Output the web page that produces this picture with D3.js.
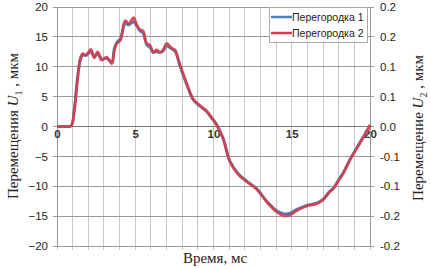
<!DOCTYPE html>
<html><head><meta charset="utf-8">
<script src="https://cdn.jsdelivr.net/npm/d3@7"></script>
<style>body{margin:0;background:#fff}svg{display:block}</style>
</head><body>
<script>
const timeMs = [0,0.5,0.9,1.1,1.3,1.5,1.65,1.85,2.0,2.17,2.38,2.6,2.85,3.17,3.5,3.65,3.8,4.06,4.35,4.6,4.88,5.1,5.3,5.5,5.73,5.94,6.15,6.37,6.6,6.8,7.0,7.33,7.54,7.86,8.29,8.7,9.14,9.56,9.88,10.2,10.6,11.05,11.58,12.1,12.76,13.4,14.04,14.46,14.9,15.3,15.96,16.6,17.0,17.4,17.66,18.0,18.3,18.7,19.35,19.9,20];
const wall1 = [0,0,0.1,2.8,8,11.2,11.9,11.9,12.2,12.5,11.7,12.2,11.3,11.4,10.8,12.9,14.0,14.8,17.2,17.0,17.5,16.8,16.0,15.6,13.7,13.2,12.4,12.5,12.4,12.7,13.5,13.0,12.6,10.1,7.0,4.5,3.4,2.5,1.4,0.3,-1.9,-5.8,-7.9,-9.1,-10.4,-12.5,-14.1,-14.6,-14.5,-13.9,-13.2,-12.8,-12.2,-10.9,-10.3,-8.9,-7.7,-5.6,-2.7,-0.3,0.2];
const wall2 = [0,0,0.1,2.5,7.5,11.5,12.2,11.9,12.4,12.9,11.5,12.5,11.1,11.6,10.5,12.5,13.8,14.5,17.7,17.2,18.2,17.0,16.2,16.0,13.9,13.6,12.5,12.8,12.4,12.9,13.9,13.1,12.8,10.3,7.2,4.6,3.5,2.6,1.5,0.3,-1.9,-5.9,-8.0,-9.2,-10.5,-12.6,-14.3,-14.9,-14.8,-14.1,-13.3,-12.9,-12.3,-11.0,-10.4,-9.0,-7.8,-5.7,-2.8,-0.3,0.3];
const seriesNames = ["Перегородка 1","Перегородка 2"];
const xTicks = [0,5,10,15,20];
const leftTicks = [-20,-15,-10,-5,0,5,10,15,20];
const rightTicks = [-0.2,-0.15,-0.1,-0.05,0,0.05,0.1,0.15,0.2];
const rightTickLabels = ["-0.2","-0.2","-0.1","-0.1","0.0","0.1","0.1","0.2","0.2"];

const W=431,H=269;
const svg=d3.select("body").append("svg").attr("width",W).attr("height",H);
const L=57,R=370,T=7,B=246;
const x=d3.scaleLinear().domain([0,20]).range([L,R]);
const y=d3.scaleLinear().domain([-20,20]).range([B,T]);
const y2=d3.scaleLinear().domain([-0.2,0.2]).range([B,T]);

// grid
const g=svg.append("g");
g.selectAll(".vg").data(d3.range(0,21)).join("line")
 .attr("x1",d=>x(d)).attr("x2",d=>x(d)).attr("y1",T).attr("y2",B+4)
 .attr("stroke","#c8c8c8").attr("stroke-width",1).attr("shape-rendering","crispEdges");
g.selectAll(".hg").data(leftTicks).join("line")
 .attr("x1",L-4).attr("x2",R+4).attr("y1",d=>y(d)).attr("y2",d=>y(d))
 .attr("stroke","#9a9a9a").attr("stroke-width",1).attr("shape-rendering","crispEdges");
// zero axis
svg.append("line").attr("x1",L).attr("x2",R).attr("y1",y(0)).attr("y2",y(0))
 .attr("stroke","#777").attr("stroke-width",1).attr("shape-rendering","crispEdges");
svg.append("line").attr("x1",L).attr("x2",L).attr("y1",T).attr("y2",B)
 .attr("stroke","#999").attr("shape-rendering","crispEdges");
svg.append("line").attr("x1",R).attr("x2",R).attr("y1",T).attr("y2",B)
 .attr("stroke","#999").attr("shape-rendering","crispEdges");

const font="Liberation Sans, Arial, sans-serif";
// left axis labels
const la=svg.append("g").attr("transform",`translate(${L-9},0)`)
 .call(d3.axisLeft(y).tickValues(leftTicks).tickSize(0).tickPadding(0).tickFormat(d3.format("d")));
la.select(".domain").remove();
la.selectAll("text").attr("font-family",font).attr("font-size",11.5).attr("fill","#222");
// right axis labels
const ra=svg.append("g").attr("transform",`translate(${R+10},0)`)
 .call(d3.axisRight(y2).tickValues(rightTicks).tickSize(0).tickPadding(0).tickFormat((d,i)=>rightTickLabels[i]));
ra.select(".domain").remove();
ra.selectAll("text").attr("font-family",font).attr("font-size",11.5).attr("fill","#222");
// x axis labels at zero
const xa=svg.append("g").attr("transform",`translate(0,${y(0)+3})`)
 .call(d3.axisBottom(x).tickValues(xTicks).tickSize(0).tickPadding(0).tickFormat(d3.format("d")));
xa.select(".domain").remove();
xa.selectAll("text").attr("font-family",font).attr("font-size",11.5).attr("font-weight","bold").attr("fill","#333");

// lines
const line=d3.line().x((d,i)=>x(timeMs[i])).y(d=>y(d)).curve(d3.curveCatmullRom.alpha(0.5));
const colors=["#4f7fbf","#d0404c"];
[wall1,wall2].forEach((s,k)=>{
 svg.append("path").attr("d",line(s)).attr("fill","none").attr("stroke",colors[k])
  .attr("stroke-width",k?2.8:2.8).attr("stroke-linejoin","round").attr("opacity",k?0.92:1);
});

// legend
const lg=svg.append("g");
lg.append("rect").attr("x",269).attr("y",7).attr("width",98).attr("height",35)
 .attr("fill","#fff").attr("stroke","#aaa").attr("shape-rendering","crispEdges");
seriesNames.forEach((n,i)=>{
 const yy=17+i*16;
 lg.append("line").attr("x1",271).attr("x2",292).attr("y1",yy).attr("y2",yy)
  .attr("stroke",colors[i]).attr("stroke-width",2.5);
 lg.append("text").attr("x",292).attr("y",yy+4).text(n)
  .attr("font-family",font).attr("font-size",10.5).attr("fill","#222");
});

// titles
const serif="Liberation Serif, Times New Roman, serif";
const t1=svg.append("text").attr("transform",`translate(18,126) rotate(-90)`)
 .attr("text-anchor","middle").attr("font-family",serif).attr("font-size",15).attr("fill","#222");
t1.append("tspan").text("Перемещения ");
t1.append("tspan").attr("font-style","italic").text("U");
t1.append("tspan").attr("font-size",10).attr("dy",4).text("1");
t1.append("tspan").attr("dy",-4).text(" , мкм");
const t2=svg.append("text").attr("transform",`translate(423,128) rotate(-90)`)
 .attr("text-anchor","middle").attr("font-family",serif).attr("font-size",15).attr("fill","#222");
t2.append("tspan").text("Перемещение ");
t2.append("tspan").attr("font-style","italic").text("U");
t2.append("tspan").attr("font-size",10).attr("dy",4).text("2");
t2.append("tspan").attr("dy",-4).text(" , мкм");
svg.append("text").attr("x",215).attr("y",263).attr("text-anchor","middle")
 .attr("font-family",serif).attr("font-size",15).attr("fill","#222").text("Время, мс");
</script>
</body></html>
